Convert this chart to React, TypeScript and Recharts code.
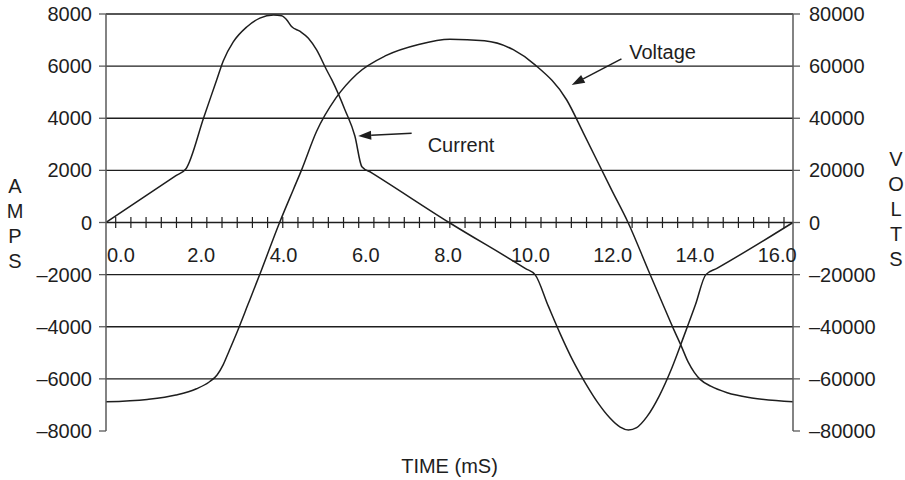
import React from 'react';
import { ComposedChart, Line, XAxis, YAxis, ReferenceLine, ReferenceDot } from 'recharts';

const FONT = '"Liberation Sans", Arial, Helvetica, sans-serif';
const INK = '#1e1e1e';
const AXIS = '#5a5a5a';

// time axis labels (ms)
const timeLabels = [0, 2, 4, 6, 8, 10, 12, 14, 16];
// minor tick marks along the zero line (ms)
const minorTickStart = 0.236;
const minorTickStep = 0.3692;
const minorTickCount = 45;
const minorTicks = Array.from({ length: minorTickCount }, (_, k) => +(minorTickStart + k * minorTickStep).toFixed(3));

const ampTicks = [-8000, -6000, -4000, -2000, 0, 2000, 4000, 6000, 8000];
const voltTicks = [-80000, -60000, -40000, -20000, 0, 20000, 40000, 60000, 80000];
const gridAmps = [8000, 6000, 4000, 2000, 0, -2000, -4000, -6000];

// Current (A) vs time (ms)
const currentTime = [
  0, 1.7, 1.94, 2.38, 2.69, 2.85, 3.09, 3.42, 3.74, 4.07, 4.27, 4.39, 4.51, 4.72, 4.92, 5.12, 5.36, 5.49,
  5.81, 6.05, 6.22, 6.45, 8.34, 10.2, 10.43, 10.75, 11.05, 11.35, 11.65, 11.95, 12.25, 12.5, 12.7, 12.9,
  13.15, 13.45, 13.75, 14.05, 14.33, 14.58, 14.85, 16.7,
];
const currentAmps = [
  0, 1800, 2050, 4050, 5470, 6200, 6920, 7500, 7840, 7960, 7930, 7780, 7520, 7330, 7070, 6620, 5860, 5470,
  4320, 3320, 2140, 1915, 0, -1770, -2000, -3200, -4300, -5300, -6150, -6900, -7500, -7850, -7960, -7870,
  -7450, -6650, -5600, -4350, -3150, -2000, -1760, 0,
];

// Voltage (V) vs time (ms)
const voltageTime = [
  0, 1.0, 1.7, 2.2, 2.5, 2.7, 2.85, 3.0, 3.2, 3.45, 3.78, 4.22, 4.55, 4.75, 5.12, 5.59, 6.1, 6.8, 7.6, 8.36,
  9.2, 9.9, 10.43, 11.2, 11.6, 12.29, 12.69, 13.18, 13.5, 13.8, 14.0, 14.15, 14.3, 14.45, 14.7, 15.1, 15.7, 16.7,
];
const voltageVolts = [
  -68800, -67900, -66200, -63800, -61300, -58500, -54500, -49000, -41500, -31500, -18200, 0, 12500, 20000, 35000,
  47800, 57000, 64000, 68300, 70300, 69700, 66300, 60500, 47000, 34500, 12500, 0, -18200, -30000, -41000, -48000,
  -53500, -57500, -60300, -62800, -65300, -67300, -68800,
];

const currentData = currentTime.map((t, i) => ({ t, a: currentAmps[i] }));
const voltageData = voltageTime.map((t, i) => ({ t, v: voltageVolts[i] }));

const fmt = (v: number) => (v < 0 ? '\u2013' + Math.abs(v) : String(v));

const TimeTick = (props: any) => {
  const { x, y, payload } = props;
  const v = payload.value as number;
  const zero = v === 0;
  return (
    <text
      x={zero ? x + 1 : x + 13}
      y={y - 169}
      textAnchor={zero ? 'start' : 'middle'}
      fontSize={20}
      fontFamily={FONT}
      fill={INK}
    >
      {v.toFixed(1)}
    </text>
  );
};

const Letters = ({ text, x, cy }: { text: string; x: number; cy: number }) => {
  const step = 25;
  const n = text.length;
  return (
    <g>
      {text.split('').map((ch, i) => (
        <text
          key={i}
          x={x}
          y={cy + (i - (n - 1) / 2) * step}
          textAnchor="middle"
          dominantBaseline="central"
          fontSize={20}
          fontFamily={FONT}
          fill={INK}
        >
          {ch}
        </text>
      ))}
    </g>
  );
};

const Arrow = (props: any) => {
  const { x1, y1, x2, y2 } = props;
  const ang = Math.atan2(y2 - y1, x2 - x1);
  const L = 13;
  const W = 4.5;
  const bx = x2 - L * Math.cos(ang);
  const by = y2 - L * Math.sin(ang);
  const px = -Math.sin(ang) * W;
  const py = Math.cos(ang) * W;
  return (
    <g>
      <line x1={x1} y1={y1} x2={bx} y2={by} stroke={INK} strokeWidth={1.5} />
      <polygon points={`${x2},${y2} ${bx + px},${by + py} ${bx - px},${by - py}`} fill={INK} />
    </g>
  );
};

const TextMark = (label: string) => (p: any) => (
  <text
    x={p.cx}
    y={p.cy}
    textAnchor="middle"
    dominantBaseline="central"
    fontSize={20}
    fontFamily={FONT}
    fill={INK}
  >
    {label}
  </text>
);

export default function App() {
  return (
    <div style={{ position: 'absolute', left: 0, top: 0, width: 905, height: 480, background: '#fff', fontFamily: FONT }}>
      <ComposedChart width={905} height={480} margin={{ top: 14, right: 0, bottom: 0, left: 0 }}>
        <XAxis
          type="number"
          dataKey="t"
          domain={[0, 16.7]}
          ticks={timeLabels}
          allowDataOverflow
          axisLine={false}
          tickLine={false}
          tickSize={0}
          tickMargin={0}
          height={49}
          tick={<TimeTick />}
          interval={0}
          label={{
            content: (p: any) => {
              const vb = p.viewBox;
              return (
                <text
                  x={vb.x + vb.width / 2}
                  y={vb.y + 42}
                  textAnchor="middle"
                  fontSize={20}
                  fontFamily={FONT}
                  fill={INK}
                >
                  TIME (mS)
                </text>
              );
            },
          }}
        />
        <YAxis
          yAxisId="left"
          domain={[-8000, 8000]}
          ticks={ampTicks}
          interval={0}
          width={106}
          tickFormatter={fmt}
          axisLine={{ stroke: AXIS, strokeWidth: 1.5 }}
          tickLine={{ stroke: AXIS, strokeWidth: 1.3 }}
          tickSize={7}
          tickMargin={7}
          tick={{ fill: INK, fontSize: 20, fontFamily: FONT }}
          label={{
            content: (p: any) => {
              const vb = p.viewBox;
              return <Letters text="AMPS" x={vb.x + 15} cy={vb.y + vb.height / 2 + 1} />;
            },
          }}
        />
        <YAxis
          yAxisId="right"
          orientation="right"
          domain={[-80000, 80000]}
          ticks={voltTicks}
          interval={0}
          width={112}
          tickFormatter={fmt}
          axisLine={{ stroke: AXIS, strokeWidth: 1.5 }}
          tickLine={{ stroke: AXIS, strokeWidth: 1.3 }}
          tickSize={7}
          tickMargin={9}
          tick={{ fill: INK, fontSize: 20, fontFamily: FONT }}
          label={{
            content: (p: any) => {
              const vb = p.viewBox;
              return <Letters text="VOLTS" x={vb.x + 103} cy={vb.y + vb.height / 2 - 14} />;
            },
          }}
        />
        {gridAmps.map((g) => (
          <ReferenceLine key={'g' + g} yAxisId="left" y={g} stroke={INK} strokeWidth={1.3} />
        ))}
        {minorTicks.map((t) => (
          <ReferenceLine
            key={'m' + t}
            yAxisId="left"
            segment={[
              { x: t, y: -210 },
              { x: t, y: 210 },
            ]}
            stroke={INK}
            strokeWidth={1.2}
          />
        ))}
        <Line
          yAxisId="left"
          data={currentData}
          dataKey="a"
          type="monotone"
          stroke={INK}
          strokeWidth={1.5}
          dot={false}
          activeDot={false}
          isAnimationActive={false}
        />
        <Line
          yAxisId="right"
          data={voltageData}
          dataKey="v"
          type="monotone"
          stroke={INK}
          strokeWidth={1.5}
          dot={false}
          activeDot={false}
          isAnimationActive={false}
        />
        <ReferenceLine
          yAxisId="left"
          segment={[
            { x: 7.43, y: 3425 },
            { x: 6.13, y: 3322 },
          ]}
          shape={Arrow}
        />
        <ReferenceLine
          yAxisId="left"
          segment={[
            { x: 12.53, y: 6279 },
            { x: 11.32, y: 5280 },
          ]}
          shape={Arrow}
        />
        <ReferenceDot yAxisId="left" x={8.63} y={2976} r={0} shape={TextMark('Current')} />
        <ReferenceDot yAxisId="left" x={13.53} y={6559} r={0} shape={TextMark('Voltage')} />
      </ComposedChart>
    </div>
  );
}
